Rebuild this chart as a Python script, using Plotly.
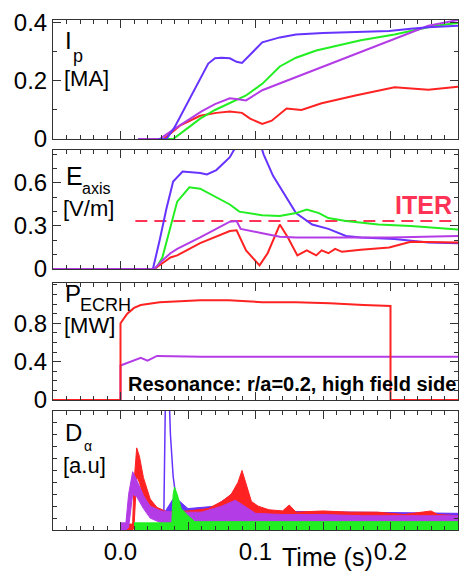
import plotly.graph_objects as go

# ---------------- data ----------------
# Plasma current Ip [MA]
ip_blue_t = [0.028, 0.034, 0.040, 0.050, 0.060, 0.065, 0.070, 0.075, 0.081, 0.086, 0.090, 0.096, 0.105, 0.118, 0.130, 0.150, 0.167, 0.185, 0.199, 0.215, 0.228, 0.250]
ip_blue_v = [0.0, 0.0, 0.04, 0.13, 0.22, 0.26, 0.278, 0.28, 0.278, 0.266, 0.262, 0.29, 0.333, 0.35, 0.36, 0.365, 0.368, 0.37, 0.372, 0.38, 0.385, 0.39]
ip_green_t = [0.028, 0.039, 0.049, 0.059, 0.070, 0.081, 0.093, 0.105, 0.118, 0.130, 0.145, 0.178, 0.203, 0.233, 0.250]
ip_green_v = [0.0, 0.0, 0.035, 0.07, 0.10, 0.123, 0.15, 0.19, 0.25, 0.28, 0.305, 0.34, 0.36, 0.39, 0.40]
ip_mag_t = [0.013, 0.029, 0.040, 0.050, 0.060, 0.070, 0.081, 0.087, 0.093, 0.105, 0.228, 0.250]
ip_mag_v = [0.0, 0.0, 0.035, 0.065, 0.095, 0.12, 0.14, 0.137, 0.133, 0.168, 0.39, 0.41]
ip_red_t = [0.028, 0.032, 0.044, 0.059, 0.071, 0.081, 0.090, 0.096, 0.105, 0.112, 0.123, 0.134, 0.149, 0.174, 0.203, 0.228, 0.250]
ip_red_v = [0.0, 0.0, 0.046, 0.08, 0.09, 0.095, 0.09, 0.07, 0.052, 0.063, 0.105, 0.10, 0.123, 0.15, 0.178, 0.17, 0.18]

# Electric field on axis E_axis [V/m]
e_blue_t = [-0.05, 0.024, 0.029, 0.034, 0.039, 0.046, 0.059, 0.064, 0.071, 0.081, 0.087, 0.095, 0.101, 0.106, 0.113, 0.120, 0.130, 0.142, 0.154, 0.167, 0.178, 0.203, 0.228, 0.250]
e_blue_v = [0.0, 0.0, 0.2, 0.42, 0.61, 0.68, 0.67, 0.66, 0.69, 0.78, 0.88, 1.0, 0.95, 0.80, 0.65, 0.54, 0.39, 0.31, 0.28, 0.23, 0.22, 0.21, 0.185, 0.18]
e_green_t = [-0.05, 0.026, 0.031, 0.037, 0.042, 0.051, 0.059, 0.081, 0.088, 0.105, 0.118, 0.130, 0.138, 0.147, 0.154, 0.167, 0.191, 0.215, 0.240, 0.250]
e_green_v = [0.0, 0.0, 0.08, 0.29, 0.47, 0.57, 0.56, 0.45, 0.40, 0.375, 0.37, 0.39, 0.415, 0.39, 0.355, 0.335, 0.31, 0.30, 0.28, 0.275]
e_mag_t = [-0.05, 0.025, 0.031, 0.037, 0.042, 0.059, 0.081, 0.086, 0.089, 0.096, 0.105, 0.118, 0.130, 0.200, 0.250]
e_mag_v = [0.0, 0.0, 0.06, 0.11, 0.14, 0.22, 0.33, 0.335, 0.28, 0.265, 0.25, 0.225, 0.22, 0.22, 0.23]
e_red_t = [-0.05, 0.025, 0.031, 0.037, 0.042, 0.059, 0.081, 0.086, 0.093, 0.103, 0.109, 0.118, 0.124, 0.131, 0.138, 0.145, 0.149, 0.154, 0.159, 0.164, 0.178, 0.199, 0.215, 0.250]
e_red_v = [0.0, 0.0, 0.04, 0.08, 0.095, 0.18, 0.265, 0.27, 0.13, 0.025, 0.11, 0.31, 0.22, 0.095, 0.13, 0.095, 0.13, 0.11, 0.14, 0.12, 0.135, 0.15, 0.19, 0.185]
iter_t = [0.011, 0.250]
iter_v = [0.335, 0.335]

# ECRH power [MW]
p_red_t = [-0.05, 0.0, 0.0, 0.005, 0.010, 0.015, 0.029, 0.059, 0.080, 0.105, 0.130, 0.155, 0.180, 0.199, 0.200, 0.200, 0.250]
p_red_v = [0.0, 0.0, 0.80, 0.90, 0.96, 0.99, 1.02, 1.04, 1.04, 1.02, 1.02, 1.01, 0.99, 0.98, 0.98, 0.0, 0.0]
p_mag_t = [-0.05, 0.0, 0.0, 0.007, 0.015, 0.020, 0.027, 0.060, 0.250]
p_mag_v = [0.0, 0.0, 0.36, 0.40, 0.44, 0.41, 0.46, 0.45, 0.45]

# D-alpha [a.u.]  (noise envelopes: upper / lower edge)
d_red_t = [0.0, 0.009, 0.010, 0.012, 0.014, 0.017, 0.022, 0.027, 0.035, 0.050, 0.065, 0.075, 0.082, 0.087, 0.090, 0.093, 0.097, 0.102, 0.110, 0.120, 0.125, 0.130, 0.150, 0.170, 0.190, 0.210, 0.225, 0.230, 0.235, 0.250]
d_red_hi = [0.05, 0.05, 0.40, 0.69, 0.62, 0.44, 0.26, 0.19, 0.15, 0.16, 0.18, 0.24, 0.30, 0.40, 0.50, 0.38, 0.24, 0.20, 0.17, 0.16, 0.21, 0.15, 0.16, 0.15, 0.15, 0.13, 0.15, 0.16, 0.13, 0.12]
d_red_lo = [0.0, 0.0, 0.02, 0.45, 0.40, 0.28, 0.14, 0.09, 0.06, 0.05, 0.05, 0.06, 0.08, 0.10, 0.10, 0.08, 0.06, 0.04, 0.03, 0.03, 0.03, 0.03, 0.02, 0.02, 0.02, 0.02, 0.02, 0.02, 0.02, 0.02]
d_mag_t = [0.0, 0.004, 0.006, 0.009, 0.012, 0.017, 0.022, 0.030, 0.040, 0.060, 0.075, 0.085, 0.092, 0.100, 0.120, 0.150, 0.180, 0.210, 0.250]
d_mag_hi = [0.06, 0.06, 0.30, 0.49, 0.42, 0.29, 0.20, 0.16, 0.15, 0.15, 0.20, 0.25, 0.20, 0.14, 0.13, 0.13, 0.12, 0.12, 0.12]
d_mag_lo = [0.0, 0.0, 0.02, 0.30, 0.28, 0.18, 0.10, 0.06, 0.05, 0.04, 0.05, 0.06, 0.05, 0.04, 0.03, 0.03, 0.03, 0.02, 0.02]
d_blue_t = [0.030, 0.040, 0.050, 0.070, 0.080, 0.085, 0.090, 0.100, 0.250]
d_blue_hi = [0.10, 0.28, 0.18, 0.20, 0.28, 0.33, 0.28, 0.16, 0.14]
d_blue_lo = [0.0, 0.05, 0.05, 0.05, 0.06, 0.06, 0.05, 0.04, 0.03]
d_blue_spike_t = [0.0320, 0.0325, 0.0335, 0.0355, 0.0370, 0.0390, 0.0410]
d_blue_spike_v = [0.05, 0.60, 1.30, 1.30, 0.80, 0.45, 0.28]
d_green_t = [0.010, 0.038, 0.039, 0.040, 0.042, 0.045, 0.050, 0.055, 0.060, 0.250]
d_green_hi = [0.06, 0.06, 0.30, 0.36, 0.30, 0.18, 0.12, 0.07, 0.07, 0.07]
d_green_lo = [0.0, 0.0, 0.0, 0.0, 0.0, 0.0, 0.0, 0.0, 0.0, 0.0]

# ---------------- styling ----------------
BLUE = "#6633ff"
GREEN = "#22ee22"
MAG = "#b43ce6"
RED = "#ff2222"
ITER_C = "#ff3355"
FONT = "Liberation Sans, Arial, sans-serif"

W, H = 459, 574
L, R, T, B = 53, 1, 20, 44
PW = W - L - R
PH = H - T - B


def py(y):
    return (H - B - y) / PH


def px(x):
    return (x - L) / PW


fig = go.Figure()


def line(t, v, color, ax, width=2, dash=None):
    fig.add_trace(go.Scatter(x=t, y=v, mode="lines", xaxis=ax[0], yaxis=ax[1],
                             line=dict(color=color, width=width, dash=dash),
                             showlegend=False, hoverinfo="skip"))


def band(t, hi, lo, color, ax):
    xs = list(t) + list(t)[::-1]
    ys = list(hi) + list(lo)[::-1]
    fig.add_trace(go.Scatter(x=xs, y=ys, mode="lines", fill="toself", fillcolor=color,
                             xaxis=ax[0], yaxis=ax[1],
                             line=dict(color=color, width=1),
                             showlegend=False, hoverinfo="skip"))


A1, A2, A3, A4 = ("x", "y"), ("x2", "y2"), ("x3", "y3"), ("x4", "y4")

# Panel 1
line(ip_red_t, ip_red_v, RED, A1)
line(ip_green_t, ip_green_v, GREEN, A1)
line(ip_mag_t, ip_mag_v, MAG, A1)
line(ip_blue_t, ip_blue_v, BLUE, A1)
# Panel 2
line(iter_t, iter_v, ITER_C, A2, width=2, dash="12px,7px")
line(e_blue_t, e_blue_v, BLUE, A2)
line(e_green_t, e_green_v, GREEN, A2)
line(e_red_t, e_red_v, RED, A2)
line(e_mag_t, e_mag_v, MAG, A2)
# Panel 3
line(p_mag_t, p_mag_v, MAG, A3)
line(p_red_t, p_red_v, RED, A3)
# Panel 4
band(d_blue_t, d_blue_hi, d_blue_lo, BLUE, A4)
line(d_blue_spike_t, d_blue_spike_v, BLUE, A4, width=1.5)
band(d_red_t, d_red_hi, d_red_lo, RED, A4)
band(d_mag_t, d_mag_hi, d_mag_lo, MAG, A4)
band(d_green_t, d_green_hi, d_green_lo, GREEN, A4)

x_tickvals = [-0.05, 0.0, 0.05, 0.1, 0.15, 0.2, 0.25]
x_ticktext = ["", "0.0", "", "0.1", "", "0.2", ""]

domains = [(20, 139), (150, 269), (283, 400), (411, 530)]
yranges = [[0, 0.41], [0, 0.83], [0, 1.22], [0, 1.0]]
ytickvals = [[0, 0.2, 0.4], [0, 0.3, 0.6], [0, 0.4, 0.8], []]
yticktext = [["0", "0.2", "0.4"], ["0", "0.3", "0.6"], ["0", "0.4", "0.8"], []]

layout = dict(
    width=W, height=H,
    margin=dict(l=L, r=R, t=T, b=B, autoexpand=False),
    paper_bgcolor="white", plot_bgcolor="white",
    font=dict(family=FONT, color="black"),
    showlegend=False,
)

for i in range(4):
    xs = "xaxis" if i == 0 else f"xaxis{i+1}"
    ys = "yaxis" if i == 0 else f"yaxis{i+1}"
    top, bot = domains[i]
    layout[xs] = dict(
        domain=[0, 1], anchor="y" if i == 0 else f"y{i+1}", automargin=False,
        range=[-0.05, 0.25], showline=True, mirror="ticks",
        linecolor="#333", linewidth=1, ticks="inside", ticklen=8, tickcolor="#333",
        tickvals=x_tickvals, ticktext=x_ticktext,
        showticklabels=(i == 3), tickfont=dict(size=24, family=FONT, color="black"),
        minor=dict(dtick=0.01, tick0=0, ticks="inside", ticklen=4, tickcolor="#333"),
        showgrid=False, zeroline=False,
    )
    if i != 0:
        layout[xs]["matches"] = "x"
    yd = dict(
        domain=[py(bot), py(top)], anchor="x" if i == 0 else f"x{i+1}", automargin=False,
        range=yranges[i], showline=True, mirror="ticks",
        linecolor="#333", linewidth=1, ticks="inside", tickcolor="#333",
        showgrid=False, zeroline=False,
        tickfont=dict(size=24, family=FONT, color="black"),
    )
    if i < 3:
        yd.update(tickvals=ytickvals[i], ticktext=yticktext[i], ticklen=8,
                  minor=dict(dtick=0.1, tick0=0, ticks="inside", ticklen=4, tickcolor="#333"))
    else:
        yd.update(dtick=0.1, tick0=0, ticklen=4, showticklabels=False)
    layout[ys] = yd

fig.update_layout(**layout)


def ann(text, x, y, size, bold=False, color="black", xanchor="left"):
    if bold:
        text = f"<b>{text}</b>"
    fig.add_annotation(text=text, x=px(x), y=py(y), xref="paper", yref="paper",
                       xanchor=xanchor, yanchor="middle", showarrow=False,
                       font=dict(size=size, family=FONT, color=color))


# Panel labels
ann("I", 63, 41, 24)
ann("p", 71, 56, 18)
ann("[MA]", 62, 78, 22)
ann("E", 64, 176, 25)
ann("axis", 80, 188, 16)
ann("[V/m]", 61, 208, 22)
ann("P", 63, 293, 24)
ann("ECRH", 78, 305, 18)
ann("[MW]", 62, 325, 22)
ann("D", 63, 432, 24)
ann("\u03b1", 82, 446, 14)
ann("[a.u]", 61, 465, 22)

ann("ITER", 393, 205, 25, bold=True, color=ITER_C)
ann("Resonance: r/a=0.2, high field side", 126, 384, 20, bold=True)
ann("Time (s)", 327, 557, 25, xanchor="center")

fig.write_html("out.html", config={"displayModeBar": False},
               post_script="document.body.style.margin='0';document.body.style.overflow='hidden';")
